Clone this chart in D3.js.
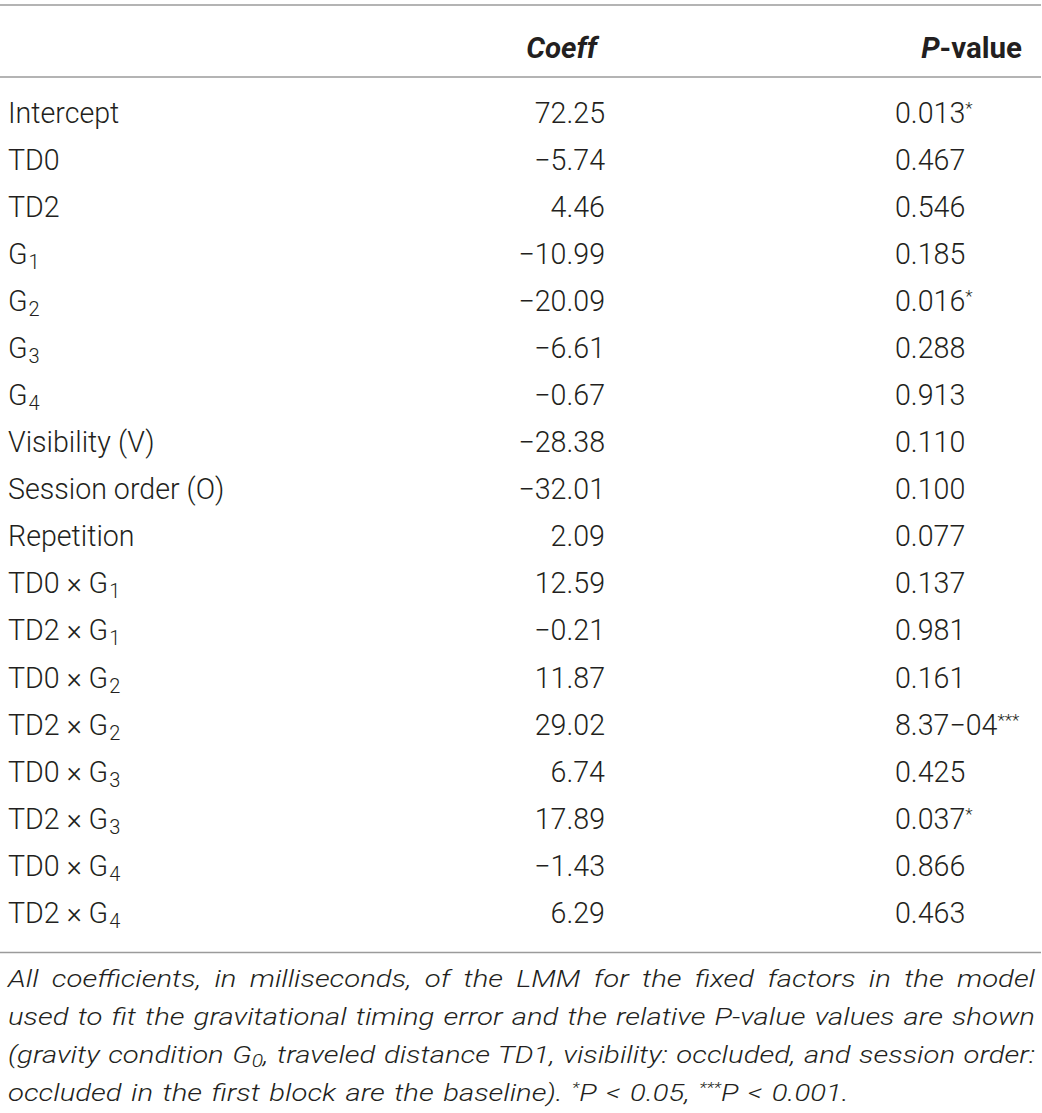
<!DOCTYPE html>
<html><head><meta charset="utf-8">
<script src="https://cdn.jsdelivr.net/npm/d3@7"></script>
<style>
html,body{margin:0;padding:0;background:#fff;}
svg{display:block;}
text{font-family:Roboto,"Liberation Sans",sans-serif;fill:#231f20;}
</style></head>
<body>
<svg id="t" width="1042" height="1113"></svg>
<script>
const labelMain = ["Intercept","TD0","TD2","G","G","G","G","Visibility (V)","Session order (O)","Repetition",
  "TD0 × G","TD2 × G","TD0 × G","TD2 × G","TD0 × G","TD2 × G","TD0 × G","TD2 × G"];
const labelSub = ["","","","1","2","3","4","","","","1","1","2","2","3","3","4","4"];
const coeffs = [72.25,-5.74,4.46,-10.99,-20.09,-6.61,-0.67,-28.38,-32.01,2.09,12.59,-0.21,11.87,29.02,6.74,17.89,-1.43,6.29];
const pvalues = ["0.013","0.467","0.546","0.185","0.016","0.288","0.913","0.110","0.100","0.077","0.137","0.981","0.161","8.37−04","0.425","0.037","0.866","0.463"];
const stars = ["*","","","","*","","","","","","","","","***","","*","",""];
const headers = ["Coeff","P-value"];
const footLines = [
  [["All coefficients, in milliseconds, of the LMM for the fixed factors in the model",""]],
  [["used to fit the gravitational timing error and the relative P-value values are shown",""]],
  [["(gravity condition G",""],["0","sub"],[", traveled distance TD1, visibility: occluded, and session order:",""]],
  [["occluded in the first block are the baseline). ",""],["*","sup"],["P < 0.05, ",""],["***","sup"],["P < 0.001.",""]]
];

const svg = d3.select("#t");
const W = 1042;
const fs = 28.6;
const rowIdx = d3.range(coeffs.length);
const y = d3.scalePoint().domain(rowIdx).range([122.5, 923]);
const fmt = d3.format(".2f");
const xLabel = 8, xCoeff = 605, xP = 895;

// rules
const rules = [5, 77, 952.5];
svg.selectAll("line.rule").data(rules).join("line").attr("class","rule")
  .attr("x1",0).attr("x2",W-1).attr("y1",d=>d).attr("y2",d=>d)
  .attr("stroke","#9b9b9b").attr("stroke-width",1.5);

// header
const hy = 58;
const hfs = 29.5;
svg.append("text").attr("x",597).attr("y",hy).attr("text-anchor","end")
  .attr("font-size",hfs).attr("font-weight",700).attr("font-style","italic").text(headers[0]);
const ph = svg.append("text").attr("x",1022).attr("y",hy).attr("text-anchor","end")
  .attr("font-size",hfs).attr("font-weight",700);
ph.append("tspan").attr("font-style","italic").text(headers[1].slice(0,1));
ph.append("tspan").text(headers[1].slice(1));

// rows
const rows = svg.selectAll("g.row").data(rowIdx).join("g").attr("class","row")
  .attr("transform", i => `translate(0,${y(i)})`);
const lab = rows.append("text").attr("x",xLabel).attr("font-size",fs).attr("font-weight",300);
lab.append("tspan").text(i=>labelMain[i]);
lab.filter(i=>labelSub[i]).append("tspan").attr("dx",1).attr("dy",5).attr("font-size",fs*0.7).text(i=>labelSub[i]);
rows.append("text").attr("x",xCoeff).attr("text-anchor","end").attr("font-size",fs).attr("font-weight",300)
  .text(i=>fmt(coeffs[i]));
const pt = rows.append("text").attr("x",xP).attr("font-size",fs).attr("font-weight",300);
pt.append("tspan").text(i=>pvalues[i]);
pt.filter(i=>stars[i]).append("tspan").attr("dy",-9).attr("font-size",fs*0.6).text(i=>stars[i]);

// footnote
const fy = d3.scalePoint().domain(d3.range(footLines.length)).range([987.5,1101]);
const fsF = 24.8;
const fg = svg.append("g");
const texts = footLines.map((segs, li) => {
  const t = fg.append("text").attr("x",0).attr("y",fy(li))
    .attr("font-size",fsF).attr("font-style","italic").attr("font-weight",300);
  let shift = 0;
  segs.forEach(([s,k]) => {
    const sp = t.append("tspan").text(s);
    if (k==="sub") { sp.attr("dy",4).attr("font-size",fsF*0.72); shift = 4; }
    else if (k==="sup") { sp.attr("dy",-8).attr("font-size",fsF*0.6); shift = -8; }
    else if (shift) { sp.attr("dy",-shift); shift = 0; }
  });
  return t;
});
const target = 1035 - xLabel;
const maxNat = d3.max(texts.slice(0,3), t => t.node().getComputedTextLength());
const sx = target / (maxNat + 12);
fg.attr("transform", `translate(${xLabel},0) scale(${sx},1)`);
texts.forEach((t, li) => {
  if (li < texts.length-1) {
    const natural = t.node().getComputedTextLength();
    const full = footLines[li].map(s=>s[0]).join("");
    const nsp = (full.match(/ /g)||[]).length;
    t.style("word-spacing", ((target/sx-natural)/nsp)+"px");
  } else {
    t.style("word-spacing", "2px");
  }
});
</script>
</body></html>
